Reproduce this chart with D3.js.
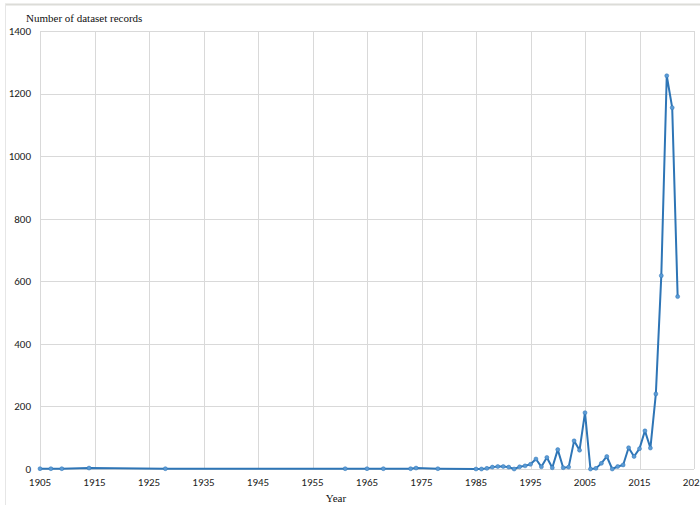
<!DOCTYPE html>
<html>
<head>
<meta charset="utf-8">
<script src="https://cdn.jsdelivr.net/npm/d3@7"></script>
<style>
  body { margin: 0; background: #fff; }
  svg { display: block; }
</style>
</head>
<body>
<div id="chart"></div>
<script>
// records per year
const years = [1905, 1907, 1909, 1914, 1928, 1961, 1965, 1968, 1973, 1974, 1978,
  1985, 1986, 1987, 1988, 1989, 1990, 1991, 1992, 1993, 1994, 1995, 1996, 1997,
  1998, 1999, 2000, 2001, 2002, 2003, 2004, 2005, 2006, 2007, 2008, 2009, 2010,
  2011, 2012, 2013, 2014, 2015, 2016, 2017, 2018, 2019, 2020, 2021, 2022]
const records = [1, 1, 1, 3, 1, 1, 1, 1, 1, 3, 1,
  0, 0, 2, 6, 8, 8, 6, 0, 7, 10, 15, 32, 7,
  37, 4, 62, 4, 6, 90, 60, 180, 0, 2, 18, 40, 0,
  8, 13, 68, 40, 65, 122, 67, 240, 618, 1257, 1155, 551]
const xTicks = d3.range(1905, 2026, 10)
const yTicks = d3.range(0, 1401, 200)

let width = 700
let height = 505
let margin = { top: 31, left: 40, right: 6, bottom: 36 }

let svg = d3.select("#chart").append("svg")
  .attr("width", width)
  .attr("height", height)

// frame
svg.append("line").attr("x1", 5).attr("x2", width).attr("y1", 4.5).attr("y2", 4.5)
  .attr("stroke", "#dcdcd8").attr("stroke-width", 2)
svg.append("line").attr("x1", 5.5).attr("x2", 5.5).attr("y1", 4).attr("y2", height)
  .attr("stroke", "#e6e6e6")

let x = d3.scaleLinear().domain([1905, 2025]).range([margin.left, width - margin.right])
let y = d3.scaleLinear().domain([0, 1400]).range([height - margin.bottom, margin.top])

// gridlines
svg.append("g").selectAll("line").data(yTicks).enter().append("line")
  .attr("x1", x(1905)).attr("x2", x(2025))
  .attr("y1", d => Math.round(y(d)) + 0.5).attr("y2", d => Math.round(y(d)) + 0.5)
  .attr("stroke", "#d9d9d9")
svg.append("g").selectAll("line").data(xTicks).enter().append("line")
  .attr("y1", y(0)).attr("y2", y(1400))
  .attr("x1", d => Math.round(x(d)) + 0.5).attr("x2", d => Math.round(x(d)) + 0.5)
  .attr("stroke", "#d9d9d9")

// tick labels
svg.append("g").selectAll("text").data(yTicks).enter().append("text")
  .attr("x", 31).attr("y", d => y(d)).attr("dy", "0.35em")
  .attr("text-anchor", "end")
  .style("font-family", "Carlito, 'Liberation Sans', sans-serif")
  .style("font-size", "11px").style("fill", "#222")
  .text(d => d)
svg.append("g").selectAll("text").data(xTicks).enter().append("text")
  .attr("x", d => x(d)).attr("y", 486)
  .attr("text-anchor", "middle")
  .style("font-family", "Carlito, 'Liberation Sans', sans-serif")
  .style("font-size", "11px").style("fill", "#222")
  .text(d => d)

// axis titles
svg.append("text").attr("x", 26).attr("y", 22)
  .style("font-family", "'Liberation Serif', 'Times New Roman', serif")
  .style("font-size", "11px").style("fill", "#111")
  .text("Number of dataset records")
svg.append("text").attr("x", 336).attr("y", 502).attr("text-anchor", "middle")
  .style("font-family", "'Liberation Serif', 'Times New Roman', serif")
  .style("font-size", "11px").style("fill", "#111")
  .text("Year")

let data = years.map((yr, i) => ({ year: yr, value: records[i] }))

let line = d3.line().x(d => x(d.year)).y(d => y(d.value))

svg.append("path").datum(data)
  .attr("d", line)
  .attr("fill", "none")
  .attr("stroke", "#2e75b6")
  .attr("stroke-width", 2)
  .attr("stroke-linejoin", "round")

svg.append("g").selectAll("circle").data(data).enter().append("circle")
  .attr("cx", d => x(d.year)).attr("cy", d => y(d.value))
  .attr("r", 2)
  .attr("fill", "#5b9bd5")
  .attr("stroke", "#2e75b6").attr("stroke-width", 0.5)
</script>
</body>
</html>
